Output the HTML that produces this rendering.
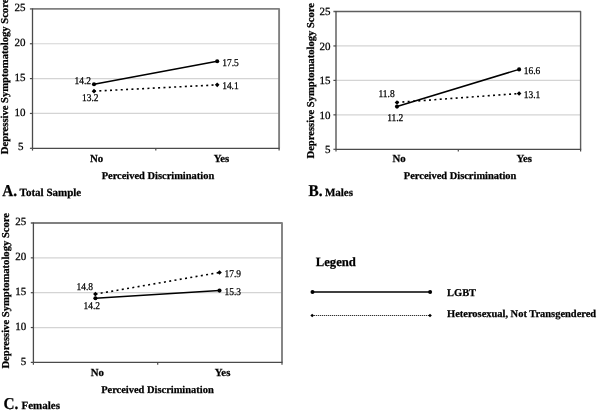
<!DOCTYPE html>
<html><head><meta charset="utf-8"><style>
html,body{margin:0;padding:0;background:#fff;width:598px;height:413px;overflow:hidden}
svg{display:block}
#w{width:598px;height:413px;will-change:transform}
text{font-family:'Liberation Serif', serif;fill:#000;text-rendering:geometricPrecision;stroke:#000;stroke-width:0.25px}
.t{font-size:11px}
.d{font-size:10.4px}
.c{font-size:10.8px;font-weight:bold}
.ti{font-size:10.45px;font-weight:bold}
.yl{font-size:10.6px;font-weight:bold}
.pl{font-size:16.6px;font-weight:bold}
.pn{font-size:11px;font-weight:bold}
.lg{font-size:12.7px;font-weight:bold}
.li{font-size:10.45px;font-weight:bold}
</style></head><body><div id="w">
<svg width="598" height="413" viewBox="0 0 598 413">
<rect width="598" height="413" fill="#fff"/>
<g>
<line x1="32.5" y1="43.75" x2="279.1" y2="43.75" stroke="#d4d4d4" stroke-width="1.2"/>
<line x1="32.5" y1="78.60" x2="279.1" y2="78.60" stroke="#d4d4d4" stroke-width="1.2"/>
<line x1="32.5" y1="113.45" x2="279.1" y2="113.45" stroke="#d4d4d4" stroke-width="1.2"/>
<polyline points="29.9,8.9 279.1,8.9 279.1,148.3" fill="none" stroke="#808080" stroke-width="1.9" stroke-linejoin="round"/>
<line x1="32.5" y1="8.4" x2="32.5" y2="148.3" stroke="#4a4a4a" stroke-width="1.3"/>
<line x1="32.5" y1="148.3" x2="279.70000000000005" y2="148.3" stroke="#4a4a4a" stroke-width="1.3"/>
<text x="25.60" y="11.00" text-anchor="end" class="t">25</text>
<line x1="29.9" y1="43.75" x2="32.5" y2="43.75" stroke="#4a4a4a" stroke-width="1.2"/>
<text x="25.60" y="45.85" text-anchor="end" class="t">20</text>
<line x1="29.9" y1="78.60" x2="32.5" y2="78.60" stroke="#4a4a4a" stroke-width="1.2"/>
<text x="25.60" y="80.70" text-anchor="end" class="t">15</text>
<line x1="29.9" y1="113.45" x2="32.5" y2="113.45" stroke="#4a4a4a" stroke-width="1.2"/>
<text x="25.60" y="115.55" text-anchor="end" class="t">10</text>
<line x1="29.9" y1="148.30" x2="32.5" y2="148.30" stroke="#4a4a4a" stroke-width="1.2"/>
<text x="23.50" y="150.40" text-anchor="end" class="t">5</text>
<line x1="32.50" y1="148.3" x2="32.50" y2="150.60000000000002" stroke="#4a4a4a" stroke-width="1.2"/>
<line x1="155.80" y1="148.3" x2="155.80" y2="150.60000000000002" stroke="#4a4a4a" stroke-width="1.2"/>
<line x1="279.10" y1="148.3" x2="279.10" y2="150.60000000000002" stroke="#4a4a4a" stroke-width="1.2"/>
<text x="96.50" y="162.30" text-anchor="middle" class="c">No</text>
<text x="221.50" y="162.30" text-anchor="middle" class="c">Yes</text>
<text x="101.64" y="179.40" class="ti">Perceived Discrimination</text>
<text transform="translate(8.4,154.2) rotate(-90)" class="yl">Depressive Symptomatology Score</text>
<line x1="94.00" y1="91.15" x2="217.20" y2="84.87" stroke="#000" stroke-width="1.6" stroke-dasharray="2 3.35"/>
<line x1="94.00" y1="84.18" x2="217.20" y2="61.18" stroke="#000" stroke-width="1.5"/>
<path d="M91.70,91.15L94.00,88.85L96.30,91.15L94.00,93.45Z" fill="#000"/>
<path d="M214.90,84.87L217.20,82.57L219.50,84.87L217.20,87.17Z" fill="#000"/>
<circle cx="94.00" cy="84.18" r="2.05" fill="#000"/>
<circle cx="217.20" cy="61.18" r="2.05" fill="#000"/>
<text transform="translate(74.55,84.10) scale(0.91,1)" class="d">14.2</text>
<text transform="translate(81.95,101.10) scale(0.91,1)" class="d">13.2</text>
<text transform="translate(222.25,65.55) scale(0.91,1)" class="d">17.5</text>
<text transform="translate(222.15,89.00) scale(0.91,1)" class="d">14.1</text>
<text transform="translate(2.35,195.50) scale(0.92,1)" class="pl">A.</text>
<text x="19.60" y="195.50" class="pn">Total Sample</text>
<line x1="336" y1="45.95" x2="580.6" y2="45.95" stroke="#d4d4d4" stroke-width="1.2"/>
<line x1="336" y1="80.40" x2="580.6" y2="80.40" stroke="#d4d4d4" stroke-width="1.2"/>
<line x1="336" y1="114.85" x2="580.6" y2="114.85" stroke="#d4d4d4" stroke-width="1.2"/>
<polyline points="333.4,11.5 580.6,11.5 580.6,149.3" fill="none" stroke="#5e5e5e" stroke-width="1.4" stroke-linejoin="round"/>
<line x1="336" y1="11.0" x2="336" y2="149.3" stroke="#4a4a4a" stroke-width="1.3"/>
<line x1="336" y1="149.3" x2="581.2" y2="149.3" stroke="#4a4a4a" stroke-width="1.3"/>
<text x="330.50" y="15.20" text-anchor="end" class="t">25</text>
<line x1="333.4" y1="45.95" x2="336" y2="45.95" stroke="#4a4a4a" stroke-width="1.2"/>
<text x="330.50" y="49.65" text-anchor="end" class="t">20</text>
<line x1="333.4" y1="80.40" x2="336" y2="80.40" stroke="#4a4a4a" stroke-width="1.2"/>
<text x="330.50" y="84.10" text-anchor="end" class="t">15</text>
<line x1="333.4" y1="114.85" x2="336" y2="114.85" stroke="#4a4a4a" stroke-width="1.2"/>
<text x="330.50" y="118.55" text-anchor="end" class="t">10</text>
<line x1="333.4" y1="149.30" x2="336" y2="149.30" stroke="#4a4a4a" stroke-width="1.2"/>
<text x="330.50" y="153.00" text-anchor="end" class="t">5</text>
<line x1="336.00" y1="149.3" x2="336.00" y2="151.60000000000002" stroke="#4a4a4a" stroke-width="1.2"/>
<line x1="458.30" y1="149.3" x2="458.30" y2="151.60000000000002" stroke="#4a4a4a" stroke-width="1.2"/>
<line x1="580.60" y1="149.3" x2="580.60" y2="151.60000000000002" stroke="#4a4a4a" stroke-width="1.2"/>
<text x="399.15" y="162.40" text-anchor="middle" class="c">No</text>
<text x="524.20" y="162.40" text-anchor="middle" class="c">Yes</text>
<text x="403.84" y="179.40" class="ti">Perceived Discrimination</text>
<text transform="translate(313.7,158.5) rotate(-90)" class="yl">Depressive Symptomatology Score</text>
<line x1="397.00" y1="102.45" x2="519.10" y2="93.49" stroke="#000" stroke-width="1.6" stroke-dasharray="2 3.35"/>
<line x1="397.00" y1="106.58" x2="519.10" y2="69.38" stroke="#000" stroke-width="1.5"/>
<path d="M394.70,102.45L397.00,100.15L399.30,102.45L397.00,104.75Z" fill="#000"/>
<path d="M516.80,93.49L519.10,91.19L521.40,93.49L519.10,95.79Z" fill="#000"/>
<circle cx="397.00" cy="106.58" r="2.05" fill="#000"/>
<circle cx="519.10" cy="69.38" r="2.05" fill="#000"/>
<text transform="translate(378.45,97.20) scale(0.91,1)" class="d">11.8</text>
<text transform="translate(387.15,120.80) scale(0.91,1)" class="d">11.2</text>
<text transform="translate(523.75,73.50) scale(0.91,1)" class="d">16.6</text>
<text transform="translate(523.75,97.70) scale(0.91,1)" class="d">13.1</text>
<text transform="translate(308.60,195.70) scale(0.92,1)" class="pl">B.</text>
<text x="324.90" y="195.70" class="pn">Males</text>
<line x1="33.4" y1="257.85" x2="282" y2="257.85" stroke="#d4d4d4" stroke-width="1.2"/>
<line x1="33.4" y1="292.70" x2="282" y2="292.70" stroke="#d4d4d4" stroke-width="1.2"/>
<line x1="33.4" y1="327.55" x2="282" y2="327.55" stroke="#d4d4d4" stroke-width="1.2"/>
<polyline points="30.799999999999997,223 282,223 282,362.4" fill="none" stroke="#808080" stroke-width="1.9" stroke-linejoin="round"/>
<line x1="33.4" y1="222.5" x2="33.4" y2="362.4" stroke="#4a4a4a" stroke-width="1.3"/>
<line x1="33.4" y1="362.4" x2="282.6" y2="362.4" stroke="#4a4a4a" stroke-width="1.3"/>
<text x="26.30" y="225.30" text-anchor="end" class="t">25</text>
<line x1="30.799999999999997" y1="257.85" x2="33.4" y2="257.85" stroke="#4a4a4a" stroke-width="1.2"/>
<text x="26.30" y="260.15" text-anchor="end" class="t">20</text>
<line x1="30.799999999999997" y1="292.70" x2="33.4" y2="292.70" stroke="#4a4a4a" stroke-width="1.2"/>
<text x="26.30" y="295.00" text-anchor="end" class="t">15</text>
<line x1="30.799999999999997" y1="327.55" x2="33.4" y2="327.55" stroke="#4a4a4a" stroke-width="1.2"/>
<text x="26.30" y="329.85" text-anchor="end" class="t">10</text>
<line x1="30.799999999999997" y1="362.40" x2="33.4" y2="362.40" stroke="#4a4a4a" stroke-width="1.2"/>
<text x="26.30" y="364.70" text-anchor="end" class="t">5</text>
<line x1="33.40" y1="362.4" x2="33.40" y2="364.7" stroke="#4a4a4a" stroke-width="1.2"/>
<line x1="157.70" y1="362.4" x2="157.70" y2="364.7" stroke="#4a4a4a" stroke-width="1.2"/>
<line x1="282.00" y1="362.4" x2="282.00" y2="364.7" stroke="#4a4a4a" stroke-width="1.2"/>
<text x="97.35" y="376.10" text-anchor="middle" class="c">No</text>
<text x="222.55" y="376.10" text-anchor="middle" class="c">Yes</text>
<text x="101.14" y="393.40" class="ti">Perceived Discrimination</text>
<text transform="translate(9.15,368.55) rotate(-90)" class="yl">Depressive Symptomatology Score</text>
<line x1="95.40" y1="294.09" x2="219.50" y2="272.49" stroke="#000" stroke-width="1.6" stroke-dasharray="2 3.35"/>
<line x1="95.40" y1="298.28" x2="219.50" y2="290.61" stroke="#000" stroke-width="1.5"/>
<path d="M93.10,294.09L95.40,291.79L97.70,294.09L95.40,296.39Z" fill="#000"/>
<path d="M217.20,272.49L219.50,270.19L221.80,272.49L219.50,274.79Z" fill="#000"/>
<circle cx="95.40" cy="298.28" r="2.05" fill="#000"/>
<circle cx="219.50" cy="290.61" r="2.05" fill="#000"/>
<text transform="translate(76.45,290.30) scale(0.91,1)" class="d">14.8</text>
<text transform="translate(83.45,309.20) scale(0.91,1)" class="d">14.2</text>
<text transform="translate(224.55,277.10) scale(0.91,1)" class="d">17.9</text>
<text transform="translate(224.55,295.20) scale(0.91,1)" class="d">15.3</text>
<text transform="translate(3.50,409.00) scale(0.92,1)" class="pl">C.</text>
<text x="21.50" y="409.00" class="pn">Females</text>

<text x="315.7" y="265.8" class="lg">Legend</text>
<line x1="312.5" y1="292" x2="430.1" y2="292" stroke="#000" stroke-width="1.6"/>
<circle cx="312.5" cy="292" r="2" fill="#000"/>
<circle cx="430.1" cy="292" r="2" fill="#000"/>
<line x1="312.2" y1="315.5" x2="430" y2="315.5" stroke="#000" stroke-width="1.2" stroke-dasharray="1 1"/>
<path d="M310.4,315.5L312.2,313.7L314,315.5L312.2,317.3Z" fill="#000"/>
<path d="M428.2,315.5L430,313.7L431.8,315.5L430,317.3Z" fill="#000"/>
<text x="447.05" y="295.7" class="li">LGBT</text>
<text x="447.05" y="316.5" class="li">Heterosexual, Not Transgendered</text>

</g>
</svg></div>
</body></html>
